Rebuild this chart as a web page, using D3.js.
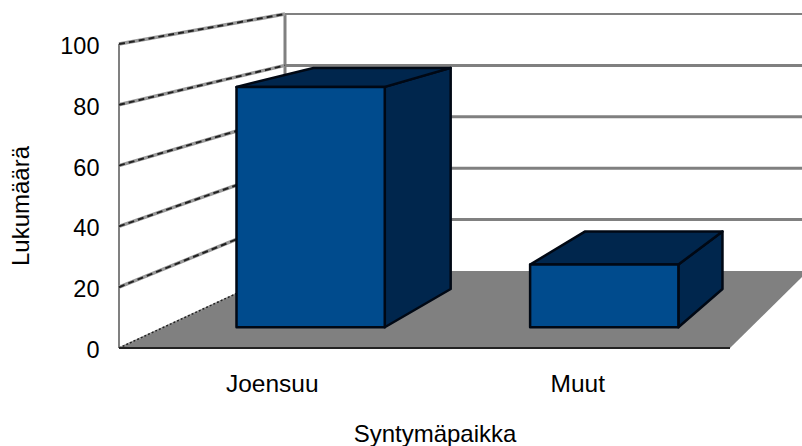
<!DOCTYPE html>
<html>
<head>
<meta charset="utf-8">
<script src="https://cdn.jsdelivr.net/npm/d3@7"></script>
<style>
  html, body { margin: 0; padding: 0; background: #fff; }
  text { font-family: "Liberation Sans", Arial, sans-serif; fill: #000; }
  .y-axis .tick text { font-size: 23.5px; }
  .x-axis .tick text { font-size: 24.5px; }
  .title { font-size: 24px; }
</style>
</head>
<body>
<div class="chart"></div>
<script>
// values
const categories = ["Joensuu", "Muut"];
const counts = [82.5, 21.5];
const yTicks = [0, 20, 40, 60, 80, 100];
const xTitle = "Syntymäpaikka";
const yTitle = "Lukumäärä";

const width = 802, height = 446;

// front edge of the box and back wall, both share the value domain
const yFront = d3.scaleLinear().domain([0, 100]).range([348, 44]);
const yBack = d3.scaleLinear().domain([0, 100]).range([271, 14]);

// 0..1 across the floor, mapped to pixels at the front and back
const band = d3.scaleBand().domain(categories).range([0, 1])
  .paddingInner(0.495).paddingOuter(0.2475);
const xFront = d3.scaleLinear().domain([0, 1]).range([119, 730]);
const xBack = d3.scaleLinear().domain([0, 1]).range([285, 808]);

// bars stand between these depths (0 = front, 1 = back wall)
const barNear = 0.27, barFar = 0.766;

// project floor position u, value v, depth t
const px = (u, t) => xFront(u) + (xBack(u) - xFront(u)) * t;
const py = (v, t) => yFront(v) + (yBack(v) - yFront(v)) * t;
const pt = (u, v, t) => [px(u, t), py(v, t)];
const poly = d3.line();

const svg = d3.select(".chart").append("svg")
  .attr("width", width)
  .attr("height", height)
  .style("display", "block");

// floor
svg.append("path")
  .attr("d", poly([pt(0, 0, 0), pt(0, 0, 1), pt(1, 0, 1), pt(1, 0, 0)]) + "Z")
  .attr("fill", "#808080");

// back wall grid
svg.selectAll(".back").data(yTicks.slice(1)).join("line")
  .attr("class", "back")
  .attr("x1", xBack(0))
  .attr("x2", xBack(1))
  .attr("y1", d => yBack(d))
  .attr("y2", d => yBack(d))
  .attr("stroke", "#808080")
  .attr("stroke-width", d => d === 100 ? 2 : 3);

// walls, vertical edges
svg.append("line")
  .attr("x1", xFront(0)).attr("x2", xFront(0))
  .attr("y1", yFront(100)).attr("y2", yFront(0))
  .attr("stroke", "#808080").attr("stroke-width", 2);
svg.append("line")
  .attr("x1", xBack(0)).attr("x2", xBack(0))
  .attr("y1", yBack(100)).attr("y2", yBack(0))
  .attr("stroke", "#808080").attr("stroke-width", 3);

// side wall grid, the rough dashed look
const side = svg.selectAll(".side").data(yTicks).join("g").attr("class", "side");
side.append("line")
  .attr("stroke", "#9a9a9a").attr("stroke-width", d => d === 0 ? 1.5 : 3.5);
side.append("line")
  .attr("stroke", "#222").attr("stroke-width", d => d === 0 ? 1.5 : 2)
  .attr("stroke-dasharray", d => d === 0 ? "2 2" : "6 4");
side.selectAll("line")
  .attr("x1", xFront(0))
  .attr("x2", xBack(0))
  .attr("y1", function() { return yFront(d3.select(this.parentNode).datum()); })
  .attr("y2", function() { return yBack(d3.select(this.parentNode).datum()); });

// front floor edge
svg.append("line")
  .attr("x1", xFront(0)).attr("x2", xFront(1))
  .attr("y1", yFront(0)).attr("y2", yFront(0))
  .attr("stroke", "#222").attr("stroke-width", 2);

// bars
const bars = svg.selectAll(".bar")
  .data(categories.map((c, i) => ({c, v: counts[i]})))
  .join("g")
  .attr("class", "bar")
  .attr("stroke", "#000814")
  .attr("stroke-width", 2.5)
  .attr("stroke-linejoin", "round");

const left = d => band(d.c), right = d => band(d.c) + band.bandwidth();

bars.append("path") // side
  .attr("d", d => poly([pt(right(d), 0, barNear), pt(right(d), 0, barFar),
    pt(right(d), d.v, barFar), pt(right(d), d.v, barNear)]) + "Z")
  .attr("fill", "#00264d");
bars.append("path") // top
  .attr("d", d => poly([pt(left(d), d.v, barNear), pt(left(d), d.v, barFar),
    pt(right(d), d.v, barFar), pt(right(d), d.v, barNear)]) + "Z")
  .attr("fill", "#00264d");
bars.append("path") // front
  .attr("d", d => poly([pt(left(d), 0, barNear), pt(left(d), d.v, barNear),
    pt(right(d), d.v, barNear), pt(right(d), 0, barNear)]) + "Z")
  .attr("fill", "#004b8d");

// axes
const yAxis = d3.axisLeft(yFront).tickValues(yTicks).tickSize(0).tickPadding(19.5);
svg.append("g")
  .attr("class", "y-axis")
  .attr("transform", "translate(" + xFront(0) + ",2)")
  .call(yAxis)
  .call(g => g.select(".domain").remove());

const xLabels = d3.scalePoint().domain(categories).range([xFront(0.25), xFront(0.75)]);
const xAxis = d3.axisBottom(xLabels).tickSize(0).tickPadding(27);
svg.append("g")
  .attr("class", "x-axis")
  .attr("transform", "translate(0," + yFront(0) + ")")
  .call(xAxis)
  .call(g => g.select(".domain").remove());

// titles
svg.append("text")
  .attr("class", "title")
  .attr("x", 435).attr("y", 442)
  .attr("text-anchor", "middle")
  .text(xTitle);
svg.append("text")
  .attr("class", "title")
  .attr("transform", "translate(29,206) rotate(-90)")
  .attr("text-anchor", "middle")
  .text(yTitle);
</script>
</body>
</html>
